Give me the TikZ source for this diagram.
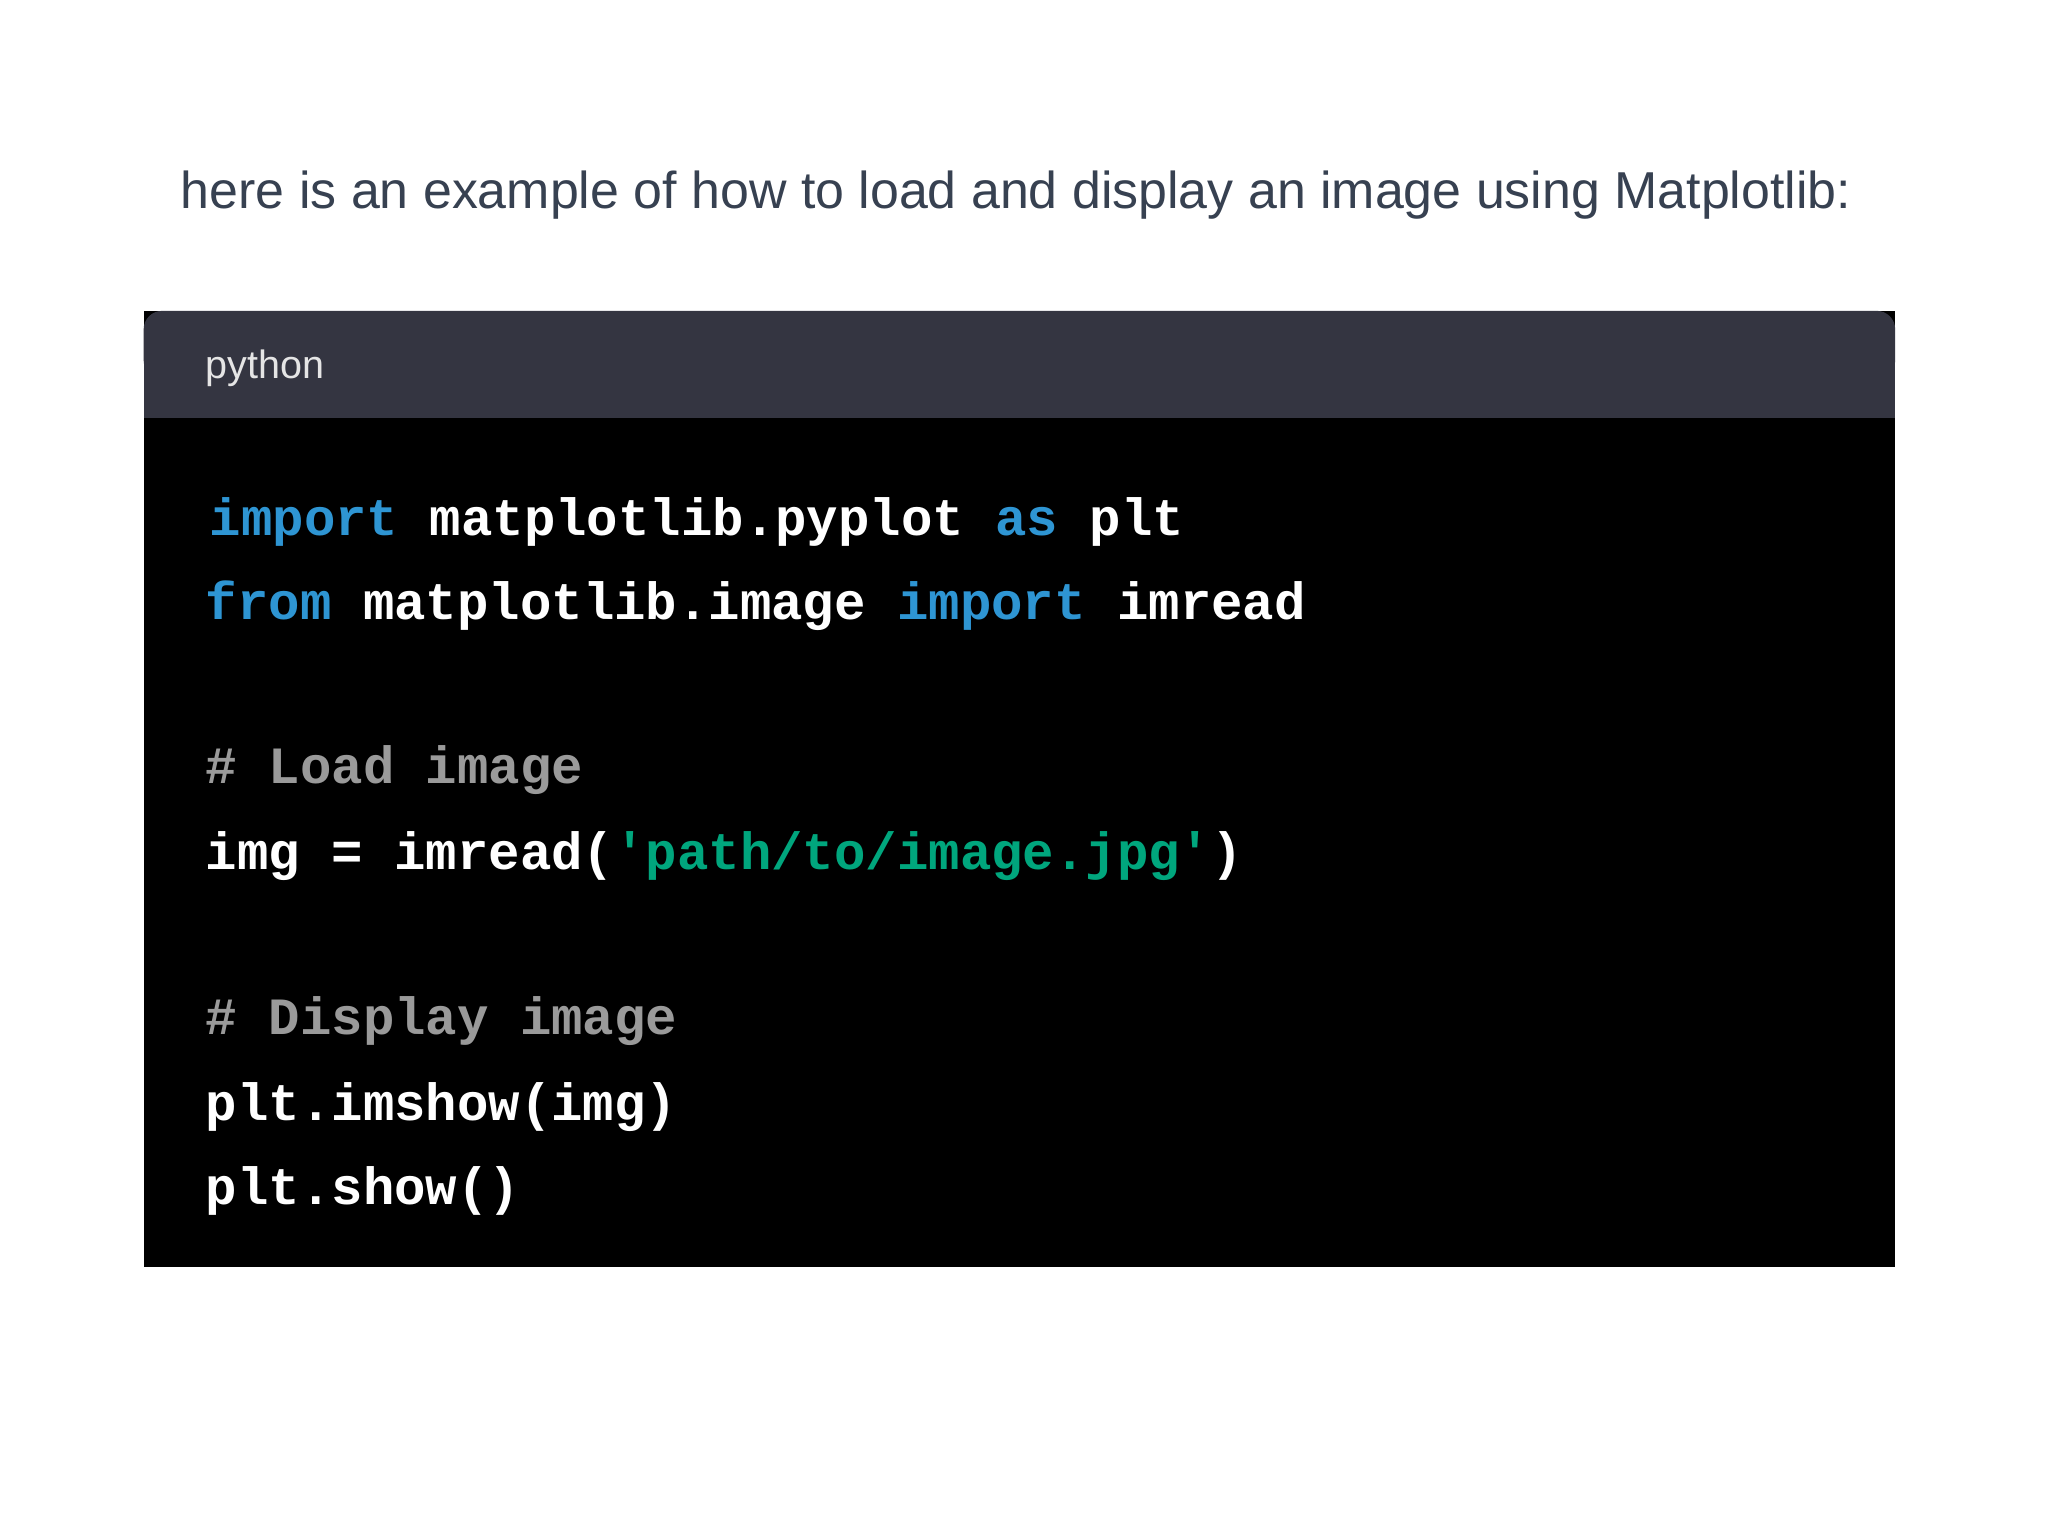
\documentclass[tikz,border=0pt]{standalone}
\usepackage{fontspec}
\setmainfont{Liberation Sans}
\newfontfamily\codefont{Liberation Mono}
\definecolor{kw}{HTML}{2E95D3}
\definecolor{st}{HTML}{00A67D}
\definecolor{cm}{HTML}{9A9A9A}
\definecolor{hd}{HTML}{343541}
\definecolor{tx}{HTML}{374151}
\tikzset{code/.style={anchor=base west,inner sep=0pt,text=white,font=\codefont\bfseries\fontsize{11.4}{12}\selectfont}}
\begin{document}
\begin{tikzpicture}[x=0.01cm,y=-0.01cm]
\fill[white] (0,0) rectangle (1568,1176);
\useasboundingbox (0,0) rectangle (1568,1176);
\node[anchor=base,inner sep=0pt,text=tx,font=\fontsize{11.3}{13}\selectfont] (title) at (778,160) {here is an example of how to load and display an image using Matplotlib:};
\fill[black] (110,238) rectangle (1451,970);
\fill[hd,rounded corners=4pt] (110,238) rectangle (1451,290);
\fill[hd] (110,270) rectangle (1451,320);
\node[anchor=base west,inner sep=0pt,text=white!80!gray,font=\fontsize{8.6}{10}\selectfont] (lang) at (157,290) {python};
\node[code] (l1) at (160,410) {\textcolor{kw}{import} matplotlib.pyplot \textcolor{kw}{as} plt};
\node[code] (l2) at (157,474) {\textcolor{kw}{from} matplotlib.image \textcolor{kw}{import} imread};
\node[code,text=cm] (l3) at (157,600) {\# Load image};
\node[code] (l4) at (157,666) {img = imread(\textcolor{st}{'path/to/image.jpg'})};
\node[code,text=cm] (l5) at (157,792) {\# Display image};
\node[code] (l6) at (157,858) {plt.imshow(img)};
\node[code] (l7) at (157,922) {plt.show()};
\end{tikzpicture}
\end{document}
